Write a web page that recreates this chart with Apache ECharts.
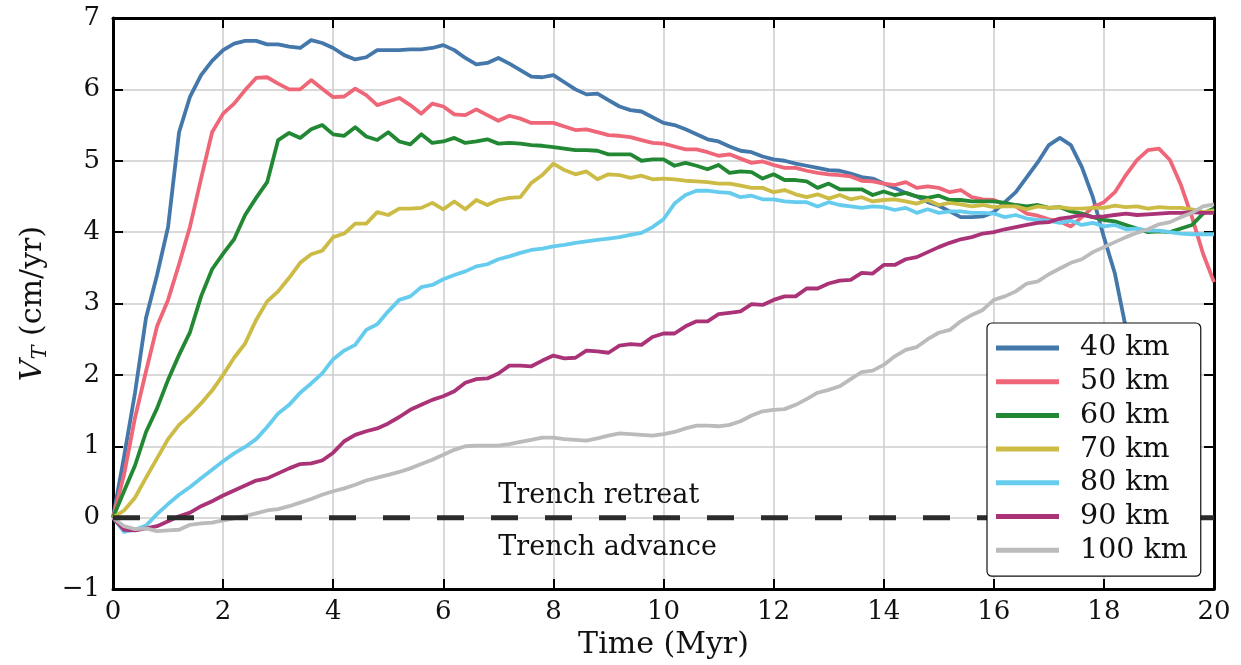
<!DOCTYPE html>
<html>
<head>
<meta charset="utf-8">
<script src="https://cdn.jsdelivr.net/npm/echarts@6/dist/echarts.min.js"></script>
<style>
html,body{margin:0;padding:0;background:#fff;}
#chart{width:1241px;height:665px;}
</style>
</head>
<body>
<div id="chart"></div>
<script>
// Time (Myr)
var times = [0,0.2,0.4,0.6,0.8,1,1.2,1.4,1.6,1.8,2,2.2,2.4,2.6,2.8,3,3.2,3.4,3.6,3.8,4,4.2,4.4,4.6,4.8,5,5.2,5.4,5.6,5.8,6,6.2,6.4,6.6,6.8,7,7.2,7.4,7.6,7.8,8,8.2,8.4,8.6,8.8,9,9.2,9.4,9.6,9.8,10,10.2,10.4,10.6,10.8,11,11.2,11.4,11.6,11.8,12,12.2,12.4,12.6,12.8,13,13.2,13.4,13.6,13.8,14,14.2,14.4,14.6,14.8,15,15.2,15.4,15.6,15.8,16,16.2,16.4,16.6,16.8,17,17.2,17.4,17.6,17.8,18,18.2,18.4,18.6,18.8,19,19.2,19.4,19.6,19.8,20];

var seriesNames = ['40 km','50 km','60 km','70 km','80 km','90 km','100 km'];

var v40 = [0,0.85,1.75,2.8,3.4,4.07,5.4,5.9,6.2,6.4,
6.55,6.64,6.68,6.68,6.63,6.63,6.6,6.58,6.69,6.65,
6.58,6.48,6.42,6.45,6.55,6.55,6.55,6.56,6.56,6.58,
6.62,6.55,6.44,6.35,6.37,6.44,6.36,6.27,6.18,6.17,
6.2,6.1,6.0,5.93,5.94,5.85,5.76,5.71,5.69,5.61,
5.53,5.5,5.44,5.37,5.3,5.27,5.2,5.14,5.12,5.06,
5.02,5.0,4.96,4.93,4.9,4.87,4.86,4.82,4.77,4.75,
4.68,4.62,4.55,4.5,4.42,4.37,4.29,4.21,4.21,4.22,
4.28,4.42,4.56,4.77,4.98,5.22,5.32,5.22,4.91,4.49,
3.93,3.42,2.65,1.9,1.2];

var v50 = [0,0.6,1.4,2.05,2.68,3.05,3.55,4.08,4.75,5.4,
5.66,5.8,5.99,6.16,6.17,6.08,6.0,6.0,6.13,6.01,
5.89,5.9,6.01,5.92,5.78,5.83,5.88,5.78,5.66,5.8,
5.76,5.65,5.64,5.72,5.64,5.56,5.63,5.59,5.53,5.53,
5.53,5.48,5.43,5.44,5.4,5.36,5.35,5.33,5.29,5.25,
5.24,5.2,5.16,5.16,5.12,5.07,5.09,5.03,4.97,4.99,
4.94,4.9,4.9,4.86,4.83,4.81,4.8,4.78,4.72,4.71,
4.68,4.66,4.7,4.62,4.64,4.62,4.56,4.59,4.49,4.46,
4.45,4.39,4.36,4.26,4.23,4.18,4.15,4.08,4.21,4.35,
4.42,4.56,4.8,5.01,5.15,5.17,5.01,4.66,4.21,3.7,
3.3];

var v60 = [0,0.37,0.73,1.2,1.53,1.93,2.28,2.6,3.1,3.48,
3.7,3.9,4.24,4.48,4.7,5.29,5.39,5.32,5.44,5.5,
5.37,5.35,5.47,5.34,5.29,5.4,5.27,5.23,5.37,5.25,
5.27,5.32,5.25,5.27,5.3,5.24,5.25,5.24,5.22,5.21,
5.19,5.17,5.15,5.15,5.14,5.09,5.09,5.09,5.0,5.02,
5.02,4.93,4.97,4.93,4.88,4.94,4.83,4.85,4.84,4.75,
4.81,4.73,4.73,4.71,4.62,4.68,4.6,4.6,4.6,4.52,
4.57,4.52,4.55,4.5,4.48,4.51,4.45,4.45,4.43,4.43,
4.43,4.41,4.38,4.36,4.38,4.34,4.35,4.29,4.26,4.21,
4.17,4.15,4.1,4.05,4.0,4.01,4.0,4.05,4.1,4.26,
4.33];

var v70 = [0,0.1,0.28,0.56,0.83,1.1,1.3,1.44,1.6,1.78,
2.0,2.24,2.44,2.77,3.03,3.17,3.36,3.57,3.69,3.74,
3.93,3.98,4.12,4.12,4.28,4.24,4.33,4.33,4.34,4.41,
4.32,4.43,4.32,4.45,4.38,4.45,4.48,4.49,4.69,4.8,
4.96,4.87,4.81,4.85,4.74,4.81,4.8,4.76,4.79,4.74,
4.75,4.74,4.72,4.71,4.7,4.68,4.68,4.65,4.62,4.62,
4.56,4.59,4.53,4.49,4.53,4.47,4.52,4.46,4.49,4.43,
4.45,4.46,4.43,4.4,4.45,4.38,4.41,4.39,4.36,4.38,
4.35,4.36,4.36,4.32,4.36,4.34,4.35,4.33,4.33,4.34,
4.34,4.37,4.35,4.36,4.33,4.35,4.34,4.34,4.32,4.28,
4.3];

var v80 = [0,-0.2,-0.17,-0.11,0.05,0.19,0.32,0.43,0.55,0.67,
0.79,0.9,0.99,1.1,1.27,1.46,1.58,1.75,1.88,2.02,
2.22,2.34,2.42,2.63,2.71,2.89,3.05,3.1,3.23,3.26,
3.34,3.4,3.45,3.52,3.55,3.62,3.66,3.71,3.75,3.77,
3.8,3.82,3.85,3.87,3.89,3.91,3.93,3.96,3.99,4.07,
4.18,4.4,4.52,4.58,4.58,4.56,4.55,4.49,4.51,4.46,
4.46,4.43,4.42,4.42,4.36,4.42,4.38,4.36,4.34,4.36,
4.35,4.31,4.34,4.27,4.32,4.27,4.29,4.29,4.27,4.27,
4.26,4.21,4.24,4.19,4.17,4.16,4.13,4.16,4.1,4.13,
4.08,4.1,4.04,4.05,4.02,4.02,4.0,3.98,3.97,3.97,
3.97];

var v90 = [0,-0.17,-0.18,-0.15,-0.12,-0.05,0.02,0.07,0.16,0.23,
0.31,0.38,0.45,0.52,0.55,0.62,0.69,0.75,0.76,0.8,
0.91,1.07,1.16,1.21,1.25,1.32,1.41,1.51,1.58,1.65,
1.7,1.77,1.89,1.94,1.95,2.02,2.13,2.13,2.12,2.2,
2.27,2.23,2.24,2.34,2.33,2.31,2.41,2.43,2.42,2.53,
2.58,2.58,2.68,2.75,2.75,2.85,2.87,2.89,2.99,2.98,
3.05,3.1,3.1,3.21,3.21,3.28,3.32,3.33,3.43,3.42,
3.54,3.54,3.62,3.65,3.72,3.79,3.85,3.9,3.93,3.98,
4.0,4.04,4.07,4.1,4.13,4.14,4.19,4.21,4.24,4.21,
4.22,4.24,4.26,4.24,4.25,4.26,4.27,4.27,4.28,4.27,
4.27];

var v100 = [0,-0.12,-0.16,-0.15,-0.19,-0.18,-0.17,-0.1,-0.08,-0.07,
-0.04,-0.01,0.02,0.06,0.1,0.12,0.16,0.21,0.26,0.32,
0.37,0.41,0.46,0.52,0.56,0.6,0.64,0.69,0.75,0.81,
0.88,0.95,1.0,1.01,1.01,1.01,1.03,1.06,1.09,1.12,
1.12,1.1,1.09,1.08,1.11,1.15,1.18,1.17,1.16,1.15,
1.17,1.2,1.25,1.29,1.29,1.28,1.3,1.35,1.43,1.49,
1.51,1.52,1.58,1.66,1.75,1.79,1.84,1.94,2.04,2.06,
2.14,2.26,2.35,2.39,2.5,2.59,2.63,2.75,2.84,2.91,
3.05,3.1,3.17,3.28,3.31,3.41,3.49,3.57,3.62,3.72,
3.79,3.86,3.93,3.99,4.04,4.11,4.14,4.21,4.27,4.36,
4.39];

var allValues = [v40, v50, v60, v70, v80, v90, v100];
var colors = ['#4477AA','#EE6677','#228833','#CCBB44','#66CCEE','#AA3377','#BBBBBB'];

var refLineX = [0, 20];
var refLineY = [0, 0];
var notes = ['Trench retreat', 'Trench advance'];

var FONT = 'DejaVu Serif';
var FS_TICK = 26;
var FS_NAME = 30;
var FS_LEG = 28.5;
var FS_NOTE = 27;

function pairs(vals){
  var out = [];
  for (var i = 0; i < vals.length; i++) out.push([times[i], vals[i]]);
  return out;
}

var series = [];
for (var k = 0; k < seriesNames.length; k++) {
  series.push({
    name: seriesNames[k],
    type: 'line',
    data: pairs(allValues[k]),
    showSymbol: false,
    symbol: 'none',
    lineStyle: {color: colors[k], width: 3.8, join: 'round'},
    itemStyle: {color: colors[k]},
    z: 2,
    animation: false
  });
}
series.push({
  name: 'zero',
  type: 'line',
  data: [[refLineX[0], refLineY[0]], [refLineX[1], refLineY[1]]],
  showSymbol: false,
  symbol: 'none',
  lineStyle: {color: '#2b2b2b', width: 5, type: [27, 27], cap: 'butt'},
  z: 3,
  silent: true,
  animation: false,
  markPoint: {
    symbol: 'circle',
    symbolSize: 0,
    silent: true,
    label: {show: true, position: 'right', distance: 0, fontFamily: FONT, fontSize: FS_NOTE, color: '#111', formatter: function(p){return p.name;}},
    data: [
      {name: notes[0], coord: [7.0, 0.30]},
      {name: notes[1], coord: [7.0, -0.42]}
    ]
  }
});

var chart = echarts.init(document.getElementById('chart'), null, {renderer: 'canvas'});
chart.setOption({
  backgroundColor: '#ffffff',
  animation: false,
  grid: {left: 113, right: 27, top: 18, bottom: 75, containLabel: false},
  legend: {
    orient: 'vertical',
    left: 987,
    top: 323,
    data: seriesNames,
    icon: 'rect',
    itemWidth: 63,
    itemHeight: 5,
    itemGap: 3.7,
    padding: [10, 13, 11, 9],
    backgroundColor: '#ffffff',
    borderColor: '#111',
    borderWidth: 1.2,
    borderRadius: 5,
    textStyle: {fontFamily: FONT, fontSize: FS_LEG, color: '#111', lineHeight: 30, padding: [0, 0, 0, 16]},
    selectedMode: false,
    z: 10
  },
  xAxis: [{
    type: 'value', min: 0, max: 20, interval: 2,
    name: 'Time (Myr)', nameLocation: 'middle', nameGap: 41,
    nameTextStyle: {fontFamily: FONT, fontSize: FS_NAME, color: '#111'},
    axisLine: {show: true, onZero: false, lineStyle: {color: '#000', width: 3}},
    axisTick: {show: true, inside: true, length: 10, lineStyle: {color: '#000', width: 2}},
    axisLabel: {fontFamily: FONT, fontSize: FS_TICK, color: '#111', margin: 10},
    splitLine: {show: true, lineStyle: {color: '#cccccc', width: 1.5}}
  }, {
    type: 'value', min: 0, max: 20, interval: 2, position: 'top',
    axisLine: {show: true, onZero: false, lineStyle: {color: '#000', width: 3}},
    axisTick: {show: true, inside: true, length: 10, lineStyle: {color: '#000', width: 2}},
    axisLabel: {show: false},
    splitLine: {show: false}
  }],
  yAxis: [{
    type: 'value', min: -1, max: 7, interval: 1,
    name: '{i|V}{s|T} (cm/yr)', nameLocation: 'middle', nameGap: 57, nameRotate: 90,
    nameTextStyle: {fontFamily: FONT, fontSize: FS_NAME, color: '#111',
      rich: {
        i: {fontFamily: FONT, fontSize: FS_NAME, fontStyle: 'italic', color: '#111'},
        s: {fontFamily: FONT, fontSize: 21, fontStyle: 'italic', color: '#111', padding: [15, 0, 0, 0]}
      }},
    axisLine: {show: true, onZero: false, lineStyle: {color: '#000', width: 3}},
    axisTick: {show: true, inside: true, length: 10, lineStyle: {color: '#000', width: 2}},
    axisLabel: {fontFamily: FONT, fontSize: FS_TICK, color: '#111', margin: 13,
      formatter: function(v){ return v < 0 ? '\u2212' + Math.abs(v) : String(v); }},
    splitLine: {show: true, lineStyle: {color: '#cccccc', width: 1.5}}
  }, {
    type: 'value', min: -1, max: 7, interval: 1, position: 'right',
    axisLine: {show: true, onZero: false, lineStyle: {color: '#000', width: 3}},
    axisTick: {show: true, inside: true, length: 10, lineStyle: {color: '#000', width: 2}},
    axisLabel: {show: false},
    splitLine: {show: false}
  }],
  series: series
});
</script>
</body>
</html>
